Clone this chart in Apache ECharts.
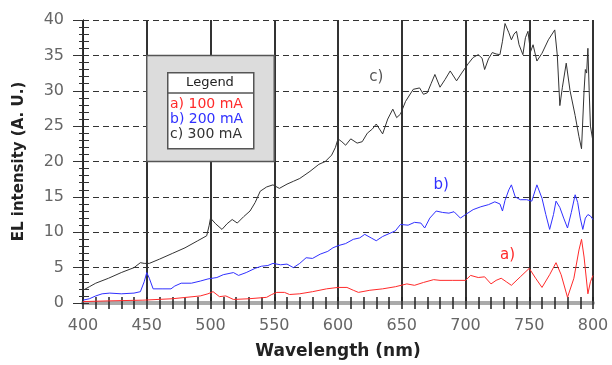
<!DOCTYPE html>
<html>
<head>
<meta charset="utf-8">
<script src="https://cdn.jsdelivr.net/npm/echarts@6/dist/echarts.min.js"></script>
<style>
  html, body { margin: 0; padding: 0; background: #fff; }
  #chart { width: 612px; height: 365px; }
</style>
</head>
<body>
<div id="chart"></div>
<script>
// a) 100 mA
let wlA = [400, 420, 447, 470, 492, 498, 502, 507, 512, 518, 530, 544, 548, 552, 558, 562, 570, 580, 591, 600,
  607, 612, 616, 625, 635, 645, 654, 660, 667, 675, 680, 690, 700, 704, 710, 715, 720, 724, 728, 732,
  736, 743, 750, 755, 760, 766, 771, 775, 780, 785, 789, 791, 793, 796, 798, 800];
let elA = [0.2, 0.3, 0.4, 0.6, 1.0, 1.3, 1.6, 0.9, 1.0, 0.5, 0.6, 0.8, 1.2, 1.5, 1.5, 1.2, 1.3, 1.6, 2.0, 2.2,
  2.2, 1.8, 1.5, 1.8, 2.0, 2.3, 2.7, 2.5, 2.9, 3.3, 3.2, 3.2, 3.2, 3.9, 3.6, 3.7, 2.7, 3.2, 3.5, 3.0,
  2.5, 3.7, 4.9, 3.5, 2.2, 4.0, 5.7, 4.0, 0.8, 3.5, 7.5, 9.0, 6.5, 1.3, 3.0, 3.9];

// b) 200 mA
let wlB = [400, 405, 410, 415, 421, 430, 440, 445, 448, 450, 452, 455, 462, 469, 472, 477, 485, 492, 498, 505,
  510, 518, 522, 528, 535, 540, 545, 549, 555, 560, 565, 570, 575, 580, 586, 592, 596, 600, 606, 612,
  617, 621, 626, 630, 635, 640, 645, 649, 655, 660, 665, 668, 672, 677, 682, 687, 691, 696, 700, 706,
  712, 718, 723, 727, 729, 731, 734, 736, 739, 743, 748, 752, 756, 760, 763, 766, 769, 771, 774, 777,
  780, 783, 786, 788, 790, 792, 794, 796, 798, 800];
let elB = [0.4, 0.6, 1.0, 1.3, 1.4, 1.3, 1.4, 1.6, 3.0, 4.3, 3.5, 2.0, 2.0, 2.0, 2.4, 2.8, 2.8, 3.1, 3.4, 3.6,
  4.0, 4.3, 3.9, 4.3, 4.9, 5.2, 5.3, 5.6, 5.4, 5.5, 5.0, 5.6, 6.4, 6.3, 6.9, 7.3, 7.8, 8.1, 8.4, 9.0,
  9.2, 9.7, 9.2, 8.8, 9.4, 9.8, 10.2, 11.1, 11.0, 11.4, 11.3, 10.6, 12.0, 13.0, 12.8, 12.7, 12.9, 12.0, 12.5, 13.2,
  13.6, 13.9, 14.3, 14.0, 13.0, 14.5, 16.0, 16.7, 15.0, 14.6, 14.6, 14.4, 16.7, 14.8, 12.5, 10.4, 12.5, 14.4, 13.5, 12.0,
  10.6, 12.8, 15.3, 14.2, 12.0, 10.4, 12.0, 12.5, 12.3, 11.8];

// c) 300 mA
let wlC = [400, 405, 410, 420, 430, 440, 445, 448, 452, 460, 470, 480, 490, 497, 499, 500, 504, 509, 513, 517,
  521, 526, 531, 535, 539, 544, 549, 554, 560, 565, 570, 578, 585, 590, 595, 598, 600, 603, 606, 610,
  615, 619, 623, 627, 630, 635, 639, 643, 646, 649, 653, 659, 664, 667, 670, 673, 676, 680, 684, 688,
  693, 697, 702, 706, 710, 713, 715, 718, 721, 724, 727, 729, 731, 734, 736, 738, 740, 742, 745, 747,
  749, 751, 753, 756, 760, 765, 770, 772, 774, 776, 779, 782, 786, 789, 791, 793, 794, 795, 796, 797,
  798, 800];
let elC = [1.8, 2.3, 2.8, 3.5, 4.3, 5.0, 5.7, 5.6, 5.6, 6.2, 7.0, 7.8, 8.8, 9.5, 11.0, 12.0, 11.2, 10.4, 11.2, 11.8,
  11.3, 12.2, 13.0, 14.2, 15.8, 16.4, 16.7, 16.2, 16.8, 17.2, 17.6, 18.6, 19.6, 20.0, 20.9, 22.0, 23.2, 22.8, 22.3, 23.2,
  22.6, 22.8, 24.0, 24.6, 25.3, 23.9, 26.0, 27.4, 26.2, 26.7, 28.5, 30.2, 30.4, 29.5, 29.7, 31.0, 32.3, 30.5, 31.6, 32.8,
  31.4, 32.5, 33.8, 34.7, 35.1, 34.6, 33.0, 34.5, 35.4, 35.2, 35.1, 37.0, 39.5, 38.2, 37.2, 38.0, 38.4, 36.5, 35.1, 37.5,
  38.4, 35.5, 36.5, 34.2, 35.3, 37.2, 38.6, 35.0, 27.9, 30.5, 33.9, 30.0, 26.5, 23.5, 21.8, 30.0, 33.0, 32.5, 36.0, 30.0,
  25.0, 22.8];

let seriesNames = ['a) 100 mA', 'b) 200 mA', 'c) 300 mA'];
let seriesTags = ['a)', 'b)', 'c)'];
let seriesColors = ['#ff2a2a', '#3030ff', '#333333'];
let tagPos = [[733, 6.7], [681, 16.6], [630, 31.9]];

function pairs(xs, ys) {
  return xs.map((x, i) => [x, ys[i]]);
}

let chart = echarts.init(document.getElementById('chart'));

let lines = [pairs(wlA, elA), pairs(wlB, elB), pairs(wlC, elC)].map((d, i) => ({
  name: seriesNames[i],
  type: 'line',
  data: d,
  symbol: 'none',
  xAxisIndex: 0,
  yAxisIndex: 0,
  lineStyle: { color: seriesColors[i], width: 1 },
  itemStyle: { color: seriesColors[i] },
  z: 3,
  markPoint: {
    symbol: 'circle',
    symbolSize: 0,
    data: [{ coord: tagPos[i] }],
    label: {
      show: true,
      position: 'inside',
      formatter: seriesTags[i],
      color: seriesColors[i] === '#333333' ? '#555' : seriesColors[i],
      fontSize: 15,
      fontFamily: 'DejaVu Sans'
    }
  }
}));

// grey legend panel behind the legend box
lines[2].markArea = {
  silent: true,
  itemStyle: { color: '#dcdcdc', borderColor: '#555', borderWidth: 1.5 },
  data: [[{ coord: [450, 35] }, { coord: [550, 20] }]]
};

let option = {
  animation: false,
  backgroundColor: '#fff',
  grid: { left: 83, right: 19, top: 20, bottom: 59 },
  legend: {
    orient: 'vertical',
    left: 165,
    top: 97,
    z: 30,
    padding: 0,
    itemGap: 1,
    itemWidth: 0,
    itemHeight: 13,
    icon: 'none',
    selectedMode: false,
    textStyle: { fontSize: 14, fontFamily: 'DejaVu Sans' },
    data: seriesNames.map((n, i) => ({ name: n, textStyle: { color: seriesColors[i] } }))
  },
  graphic: [
    { type: 'rect', left: 167, top: 72, z: 10,
      shape: { width: 86, height: 76 },
      style: { fill: '#fff', stroke: '#555', lineWidth: 1.5 } },
    { type: 'line', z: 11,
      shape: { x1: 167, y1: 93, x2: 253, y2: 93 },
      style: { stroke: '#555', lineWidth: 1.5 } },
    { type: 'text', x: 210, y: 83, z: 11,
      style: { text: 'Legend', fill: '#222', font: '13px "DejaVu Sans"', align: 'center', verticalAlign: 'middle' } }
  ],
  xAxis: [
    {
      type: 'value',
      min: 400,
      max: 800,
      interval: 50,
      name: 'Wavelength (nm)',
      nameLocation: 'middle',
      nameGap: 40,
      nameTextStyle: { fontSize: 17, fontWeight: 'bold', color: '#222', fontFamily: 'DejaVu Sans' },
      axisLine: { show: true, onZero: false, lineStyle: { color: '#aaa', width: 4 } },
      axisTick: { show: true, length: 6, lineStyle: { color: '#222', width: 1.5 } },
      minorTick: { show: true, splitNumber: 5, length: 6, lineStyle: { color: '#222', width: 1.5 } },
      axisLabel: { color: '#666', fontSize: 16, margin: 15, fontFamily: 'DejaVu Sans' },
      splitLine: { show: true, lineStyle: { color: '#333', width: 2 } }
    },
    {
      type: 'value',
      min: 400,
      max: 800,
      interval: 50,
      position: 'bottom',
      axisLine: { show: false },
      axisTick: { show: true, inside: true, length: 6, lineStyle: { color: '#222', width: 1.5 } },
      minorTick: { show: true, splitNumber: 5, length: 6, lineStyle: { color: '#222', width: 1.5 } },
      axisLabel: { show: false },
      splitLine: { show: false }
    }
  ],
  yAxis: [
    {
      type: 'value',
      min: 0,
      max: 40,
      interval: 5,
      name: 'EL intensity (A. U.)',
      nameLocation: 'middle',
      nameGap: 56,
      nameRotate: 90,
      nameTextStyle: { fontSize: 15, fontWeight: 'bold', color: '#222', fontFamily: 'DejaVu Sans' },
      axisLine: { show: true, lineStyle: { color: '#222', width: 1 } },
      axisTick: { show: true, length: 10, lineStyle: { color: '#333', width: 1 } },
      minorTick: { show: true, splitNumber: 5, length: 4, lineStyle: { color: '#333', width: 1 } },
      axisLabel: { color: '#666', fontSize: 16, margin: 19, fontFamily: 'DejaVu Sans' },
      splitLine: { show: true, lineStyle: { color: '#333', width: 1, type: [6, 4] } }
    },
    {
      type: 'value',
      min: 0,
      max: 40,
      interval: 5,
      position: 'left',
      offset: 0,
      axisLine: { show: true, lineStyle: { color: '#222', width: 1 } },
      axisTick: { show: true, inside: true, length: 6, lineStyle: { color: '#333', width: 1 } },
      minorTick: { show: true, splitNumber: 5, length: 6, lineStyle: { color: '#333', width: 1 } },
      axisLabel: { show: false },
      splitLine: { show: false }
    }
  ],
  series: lines
};

chart.setOption(option);
</script>
</body>
</html>
